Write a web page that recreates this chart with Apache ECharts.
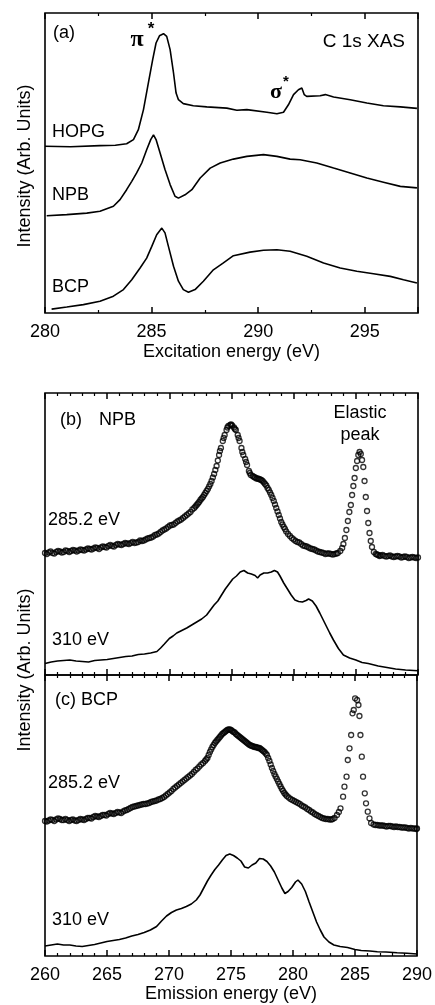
<!DOCTYPE html>
<html>
<head>
<meta charset="utf-8">
<script src="https://cdn.jsdelivr.net/npm/echarts@6/dist/echarts.min.js"></script>
<style>
html, body { margin: 0; padding: 0; background: #fff; }
#chart { width: 435px; height: 1005px; }
</style>
</head>
<body>
<div id="chart"></div>
<script>
// (a) C 1s XAS  [excitation energy eV, intensity]
const hopgXas = [[280.00,55.6],[281.2,55.4],[282.58,55.8],[283.3,55.9],[283.83,56.4],[284.15,57.8],[284.38,61.1],[284.62,67.8],[284.85,76.7],[285.05,84.4],[285.21,90.0],[285.37,92.4],[285.56,93.1],[285.71,92.2],[285.87,87.8],[286.03,80.0],[286.15,73.3],[286.26,71.1],[286.49,69.8],[286.96,69.1],[287.59,68.7],[288.53,68.3],[289.0,67.6],[289.47,67.8],[290.41,66.9],[290.88,66.4],[291.19,66.9],[291.42,69.4],[291.66,72.8],[291.89,74.4],[292.05,75.0],[292.16,72.8],[292.28,72.2],[292.91,72.4],[293.15,72.8],[293.54,72.0],[294.32,71.1],[295.10,70.0],[295.88,69.1],[296.67,68.7],[297.45,68.2]];
const npbXas = [[280.08,32.4],[281.02,32.8],[281.96,33.3],[282.58,33.9],[283.21,35.6],[283.52,37.8],[283.83,41.1],[284.07,43.9],[284.30,46.7],[284.54,50.0],[284.77,54.4],[284.96,57.8],[285.09,59.4],[285.21,57.8],[285.40,53.3],[285.63,47.8],[285.87,42.8],[286.10,38.9],[286.26,38.3],[286.57,39.4],[286.89,41.1],[287.28,45.0],[287.75,48.3],[288.22,50.0],[288.84,51.3],[289.47,52.2],[290.25,52.8],[290.88,52.2],[291.50,51.3],[291.97,51.1],[292.75,50.0],[293.54,48.3],[294.32,46.7],[295.10,45.0],[295.88,43.6],[296.67,42.2],[297.45,41.7]];
const bcpXas = [[280.31,1.3],[281.02,2.0],[281.80,2.8],[282.58,3.9],[283.21,5.6],[283.68,7.8],[284.07,11.1],[284.46,15.0],[284.77,18.3],[285.01,22.2],[285.24,26.1],[285.48,28.3],[285.63,26.7],[285.79,22.2],[286.03,15.6],[286.26,10.6],[286.49,7.8],[286.73,6.9],[287.04,7.8],[287.43,10.6],[287.90,14.4],[288.37,16.7],[288.84,19.1],[289.62,20.3],[290.25,20.9],[290.88,21.1],[291.50,20.6],[292.28,18.9],[293.07,16.7],[293.85,15.0],[294.63,13.9],[295.41,13.1],[296.20,12.2],[296.82,11.1],[297.45,10.0]];

// (b) NPB XES  [emission energy eV, intensity]
const npbRes = [[260.0,122],[260.3,122.5],[260.6,122],[260.9,123],[261.2,123.5],[261.5,123],[261.8,124],[262.1,124],[262.4,124.5],[262.7,124.5],[263.0,125],[263.3,125.5],[263.6,126],[263.9,126.5],[264.2,127],[264.5,127.5],[264.8,128],[265.1,129],[265.4,129],[265.7,130],[266.0,130.5],[266.3,131],[266.6,131.5],[266.9,132],[267.2,132],[267.5,133],[267.8,134],[268.1,135.5],[268.4,137],[268.7,138.5],[269.0,140.5],[269.3,143],[269.6,145.5],[269.9,148],[270.2,150],[270.5,152],[270.8,154.5],[271.1,157],[271.4,160],[271.7,163],[272.0,167],[272.2,170],[272.4,173],[272.6,176.5],[272.8,180],[273.0,184],[273.2,188.5],[273.4,194],[273.6,201],[273.8,209],[274.0,220],[274.15,227],[274.3,234],[274.45,240],[274.6,245],[274.75,249],[274.9,250],[275.05,249.5],[275.2,247.5],[275.35,245],[275.5,240],[275.65,234],[275.8,227],[275.95,220],[276.1,216],[276.25,210],[276.4,204],[276.55,200],[276.8,198],[277.0,196.5],[277.2,196],[277.4,195],[277.6,192.5],[277.8,189.5],[278.0,185],[278.2,180],[278.4,174],[278.6,167],[278.8,160],[279.0,153],[279.2,148],[279.4,143.5],[279.7,139],[280.0,135.5],[280.3,133],[280.6,131],[280.9,129],[281.2,127.5],[281.5,126],[281.8,124.5],[282.1,123],[282.4,122],[282.7,121.5],[283.0,121],[283.3,121],[283.55,122],[283.75,124],[283.9,127],[284.0,131],[284.12,137],[284.24,145],[284.36,154],[284.48,163],[284.6,170],[284.7,180],[284.8,189],[284.9,197],[285.0,207],[285.1,214],[285.2,220],[285.3,223],[285.4,221],[285.5,215],[285.6,208],[285.7,194],[285.8,178],[285.9,164],[286.0,152],[286.1,142],[286.2,134],[286.3,128],[286.45,123],[286.6,121],[286.8,120],[287.0,119.5],[287.3,119],[287.6,119],[287.9,118.5],[288.2,118.5],[288.5,118.5],[288.8,118],[289.1,118],[289.4,117.5],[289.7,117.5],[290.0,117.5],
    [260.15,121],[260.45,123.5],[260.75,121.5],[261.05,124],[261.35,122.5],[261.65,124.5],[261.95,123],[262.25,125],[262.55,123.5],[262.85,125.5],[263.15,124.5],[263.45,126.5],[263.75,125.5],[264.05,127.5],[264.35,126],[264.65,128.5],[264.95,127.5],[265.25,130],[265.55,128.5],[265.85,131],[266.15,130],[266.45,132],[266.75,131],[267.05,133],[267.35,132.5],[267.65,134.5],[267.95,134.5],[268.25,136.5],[268.55,137.5],[268.85,140],[269.15,141.5],[269.45,144.5],[269.75,146.5],[270.05,149.5],[270.35,150.5],[270.65,153.5],[270.95,155.5],[271.25,158.5],[271.55,161.5],[271.85,165.5],
    [272.1,168.5],[272.3,171.5],[272.5,175],[272.7,178],[272.9,182],[273.1,186],[273.3,191],[273.5,197.5],[273.7,205],[273.9,214.5],[274.07,224],[274.37,237],[274.67,247.5],[274.97,250.5],[275.27,246],[275.57,237],[275.87,223],[276.17,213],[276.47,202],[276.7,199],[276.9,197.5],[277.1,196.5],[277.3,195.5],[277.5,194],[277.7,191],[277.9,187],[278.1,182.5],[278.3,177],[278.5,170.5],[278.7,163.5],[278.9,156.5],[279.1,150.5],[279.3,146],
    [279.55,141],[279.85,137],[280.15,134],[280.45,132.5],[280.75,129.5],[281.05,128.5],[281.35,126.5],[281.65,125.5],[281.95,123.5],[282.25,122.5],[282.55,121],[282.85,121.5],[283.15,120.5],[283.45,121.5],
    [286.7,120.5],[286.9,119],[287.15,120],[287.45,118.5],[287.75,119.5],[288.05,118],[288.35,119],[288.65,117.5],[288.95,118.5],[289.25,117],[289.55,118],[289.85,117]];
const npbNonRes = [[260.0,11.5],[260.5,13],[261.0,14],[261.5,14.5],[262.0,15],[262.5,14],[263.0,13.5],[263.5,13],[264.0,14.5],[264.5,15],[265.0,15.5],[265.5,16.5],[266.0,17.5],[266.5,18.5],[267.0,19],[267.5,20.5],[268.0,21],[268.5,22],[269.0,23.5],[269.3,27],[269.6,31],[270.0,36.5],[270.3,39],[270.6,42],[271.0,44.5],[271.4,47],[271.8,50],[272.2,53],[272.6,56],[273.0,60],[273.3,65],[273.6,70],[273.9,74],[274.2,80],[274.5,86],[274.8,91],[275.1,96],[275.4,99],[275.7,103],[276.0,104.5],[276.3,102],[276.6,101],[276.9,99.5],[277.1,97],[277.3,100],[277.6,102],[277.9,102],[278.2,103],[278.45,104.5],[278.7,103],[278.9,99],[279.2,92],[279.5,86],[279.8,80],[280.1,75],[280.4,73.5],[280.7,73],[281.0,74.5],[281.2,76],[281.5,74],[281.8,69],[282.1,62],[282.5,52],[282.9,42],[283.2,35],[283.6,26.5],[284.0,20],[284.5,17],[285.0,15],[285.5,12.5],[286.0,11.5],[286.8,9],[287.5,7.5],[288.2,6],[289.0,5],[290.0,4.3]];

// (c) BCP XES
const bcpRes = [[260.0,135],[260.3,135.5],[260.6,136],[260.9,136.5],[261.2,137],[261.5,136],[261.8,136],[262.1,136],[262.4,135.5],[262.7,136],[263.0,136.5],[263.3,137],[263.6,138],[263.9,139],[264.2,139.5],[264.5,140],[264.8,141],[265.1,142],[265.4,142.5],[265.7,143],[266.0,143.5],[266.3,144.5],[266.6,146],[266.9,148],[267.2,149.5],[267.5,150.5],[267.8,151.5],[268.1,152],[268.4,153],[268.7,154.5],[269.0,155.5],[269.3,157],[269.6,159],[269.9,162],[270.2,165],[270.5,168.5],[270.8,171.5],[271.1,174.5],[271.4,177.5],[271.7,180.5],[272.0,184],[272.3,187.5],[272.6,191.5],[272.9,195],[273.1,198],[273.3,204],[273.5,209],[273.7,213],[273.9,216],[274.1,219],[274.3,222],[274.5,224],[274.7,226],[274.9,226.5],[275.1,225],[275.3,223.5],[275.5,221],[275.7,219],[275.9,217],[276.1,215],[276.3,213],[276.5,211],[276.7,210],[276.9,209],[277.1,208.5],[277.3,208],[277.5,206],[277.7,204],[277.9,201],[278.1,195],[278.3,188],[278.5,182],[278.7,177],[278.9,172],[279.1,167],[279.3,163],[279.5,160],[279.8,157],[280.1,155],[280.4,153],[280.7,150.5],[281.0,148.5],[281.3,146],[281.6,143.5],[281.9,141],[282.2,139],[282.5,137.5],[282.8,137],[283.1,136.5],[283.35,138],[283.55,141],[283.7,144],[283.83,147.7],[284.04,159.3],[284.15,169.3],[284.32,179.3],[284.42,196],[284.56,207.7],[284.69,221],[284.80,242.7],[284.90,246],[285.01,257.7],[285.17,256],[285.28,251],[285.36,240],[285.44,221],[285.55,199.3],[285.65,179.3],[285.79,162.7],[285.89,152.7],[286.03,144.3],[286.17,137.7],[286.3,133],[286.5,131.5],[286.8,131],[287.1,130.5],[287.4,130],[287.7,130],[288.0,129.5],[288.3,129.5],[288.6,129],[288.9,128.5],[289.2,128],[289.5,128],[289.8,127.5],[290.0,127.5],
    [260.15,134.5],[260.45,136.5],[260.75,135],[261.05,137.5],[261.35,136],[261.65,137],[261.95,135],[262.25,136.5],[262.55,135],[262.85,137],[263.15,136],[263.45,138],[263.75,137.5],[264.05,140],[264.35,139],[264.65,141],[264.95,140.5],[265.25,143],[265.55,142],[265.85,144],[266.15,143],[266.45,145.5],[266.75,147],[267.05,149],[267.35,150],[267.65,151],[267.95,152],[268.25,152.5],[268.55,154],[268.85,155],[269.15,156.5],[269.45,158],[269.75,160.5],[270.05,163.5],[270.35,167],[270.65,170],[270.95,173],[271.25,176],[271.55,179],[271.85,182],[272.15,186],[272.45,189.5],[272.75,193],[273.0,196.5],[273.2,201],[273.4,206.5],[273.6,211],[273.8,214.5],[274.0,217.5],[274.2,220.5],[274.4,223],[274.6,225],[274.8,226.5],[275.0,226],[275.2,224],[275.4,222],[275.6,220],[275.8,218],[276.0,216],[276.2,214],[276.4,212],[276.6,210.5],[276.8,209.5],[277.0,209],[277.2,208],[277.4,207],[277.6,205],[277.8,202.5],[278.0,198],[278.2,191.5],[278.4,185],[278.6,179.5],[278.8,174.5],[279.0,169.5],[279.2,165],[279.4,161.5],[279.65,158.5],[279.95,156],[280.25,154],[280.55,152],[280.85,149.5],[281.15,147],[281.45,144.5],[281.75,142],[282.05,140],[282.35,138],[282.65,137],[282.95,136.5],[283.2,137],
    [286.65,131],[286.95,130.5],[287.25,130.5],[287.55,129.5],[287.85,130],[288.15,129],[288.45,129],[288.75,128.5],[289.05,128.5],[289.35,127.5],[289.65,127.5],[289.95,127]];
const bcpNonRes = [[260.0,10],[260.5,11],[261.0,12],[261.5,11],[262.0,11],[262.5,10],[263.0,9.5],[263.5,10.5],[264.0,11.5],[264.5,13],[265.0,14.5],[265.5,15.5],[266.0,16.5],[266.5,18],[267.0,20],[267.5,21.5],[268.0,23.5],[268.5,26],[269.0,29.5],[269.4,35],[269.8,40],[270.2,43.5],[270.6,46],[271.0,47.5],[271.4,49.5],[271.8,52],[272.2,56],[272.5,61],[272.8,68],[273.1,75],[273.4,81],[273.7,86.5],[274.0,91],[274.3,96],[274.6,100.5],[274.9,102],[275.2,100.5],[275.5,98],[275.8,95],[276.1,89],[276.4,88],[276.7,91],[277.0,93],[277.3,97.5],[277.6,97],[277.9,94.5],[278.2,90],[278.5,84],[278.8,76],[279.1,68],[279.35,62.5],[279.6,64.5],[279.9,68.5],[280.2,74],[280.4,76],[280.7,72],[281.0,64.5],[281.3,54],[281.6,44],[281.9,34],[282.2,26],[282.5,19],[282.9,14],[283.3,11],[283.8,9.5],[284.4,8.5],[285.0,6.5],[285.5,5.5],[286.2,5],[286.8,4.3],[287.5,4],[288.4,3.3],[289.2,2.8],[290.0,2]];

// axis ranges
const xasRange = [280, 297.5];
const xesRange = [260, 290];

const FONT = '"Liberation Sans", Arial, sans-serif';

function makeXAxis(grid, pos, range, minorSplit, showLabel, name) {
    return {
        type: 'value',
        gridIndex: grid,
        position: pos,
        min: range[0],
        max: range[1],
        interval: 5,
        axisLine: { show: false },
        axisTick: { show: true, inside: true, length: 6, lineStyle: { color: '#000', width: 1.5 } },
        minorTick: { show: true, splitNumber: minorSplit, length: 3, lineStyle: { color: '#000', width: 1.2 } },
        splitLine: { show: false },
        minorSplitLine: { show: false },
        axisLabel: {
            show: showLabel,
            color: '#000',
            fontSize: 18,
            fontFamily: FONT,
            margin: 10,
            formatter: v => (v % 5 === 0 ? String(v) : '')
        },
        name: name || '',
        nameLocation: 'middle',
        nameGap: 30,
        nameTextStyle: { color: '#000', fontSize: 18, fontFamily: FONT }
    };
}

function makeYAxis(grid, max) {
    return { type: 'value', gridIndex: grid, min: 0, max: max, show: false };
}

function lineSeries(xi, yi, data) {
    return {
        type: 'line', xAxisIndex: xi, yAxisIndex: yi, data: data,
        showSymbol: false, silent: true,
        lineStyle: { color: '#000', width: 1.6 }
    };
}

function dotSeries(xi, yi, data) {
    return {
        type: 'scatter', xAxisIndex: xi, yAxisIndex: yi, data: data,
        symbol: 'circle', symbolSize: 5, silent: true,
        itemStyle: { color: 'rgba(0,0,0,0)', borderColor: '#000', borderWidth: 1.3 }
    };
}

function label(text, x, y, size, align, extra, rotation) {
    return {
        type: 'text', x: x, y: y, rotation: rotation || 0,
        style: Object.assign({
            text: text, fill: '#000', fontSize: size || 18, fontFamily: FONT,
            textAlign: align || 'left', textVerticalAlign: 'middle'
        }, extra || {})
    };
}

const gridStyle = { show: true, borderColor: '#000', borderWidth: 1.6, backgroundColor: 'transparent' };

const chart = echarts.init(document.getElementById('chart'));
chart.setOption({
    animation: false,
    backgroundColor: '#fff',
    grid: [
        Object.assign({ left: 45, width: 373, top: 13, height: 300 }, gridStyle),
        Object.assign({ left: 45, width: 373, top: 393, height: 282 }, gridStyle),
        Object.assign({ left: 45, width: 373, top: 675, height: 281 }, gridStyle)
    ],
    xAxis: [
        makeXAxis(0, 'bottom', xasRange, 2, true, 'Excitation energy (eV)'),
        makeXAxis(0, 'top', xasRange, 2, false),
        makeXAxis(1, 'bottom', xesRange, 5, false),
        makeXAxis(1, 'top', xesRange, 5, false),
        Object.assign(makeXAxis(2, 'bottom', xesRange, 5, true, 'Emission energy (eV)'), { nameGap: 28 }),
        makeXAxis(2, 'top', xesRange, 5, false)
    ],
    yAxis: [makeYAxis(0, 100), makeYAxis(1, 282), makeYAxis(2, 281)],
    series: [
        lineSeries(0, 0, hopgXas),
        lineSeries(0, 0, npbXas),
        lineSeries(0, 0, bcpXas),
        dotSeries(2, 1, npbRes),
        lineSeries(2, 1, npbNonRes),
        dotSeries(4, 2, bcpRes),
        lineSeries(4, 2, bcpNonRes)
    ],
    graphic: [
        label('Intensity (Arb. Units)', 25, 166, 18, 'center', null, Math.PI / 2),
        label('Intensity (Arb. Units)', 25, 670, 18, 'center', null, Math.PI / 2),
        label('(a)', 53, 33),
        label('π', 137, 40, 24, 'center', { fontFamily: '"Liberation Serif", serif', fontWeight: 'bold' }),
        label('*', 151, 29, 17, 'center', { fontWeight: 'bold' }),
        label('C 1s XAS', 405, 42, 19, 'right'),
        label('σ', 276, 92, 22, 'center', { fontFamily: '"Liberation Serif", serif', fontWeight: 'bold' }),
        label('*', 286, 82, 15, 'center', { fontWeight: 'bold' }),
        label('HOPG', 52, 132),
        label('NPB', 52, 195),
        label('BCP', 52, 287),
        label('(b)', 60, 420),
        label('NPB', 99, 420),
        label('Elastic', 360, 413, 18, 'center'),
        label('peak', 360, 435, 18, 'center'),
        label('285.2 eV', 48, 520),
        label('310 eV', 52, 640),
        label('(c) BCP', 55, 700),
        label('285.2 eV', 48, 783),
        label('310 eV', 52, 920)
    ]
});
</script>
</body>
</html>
